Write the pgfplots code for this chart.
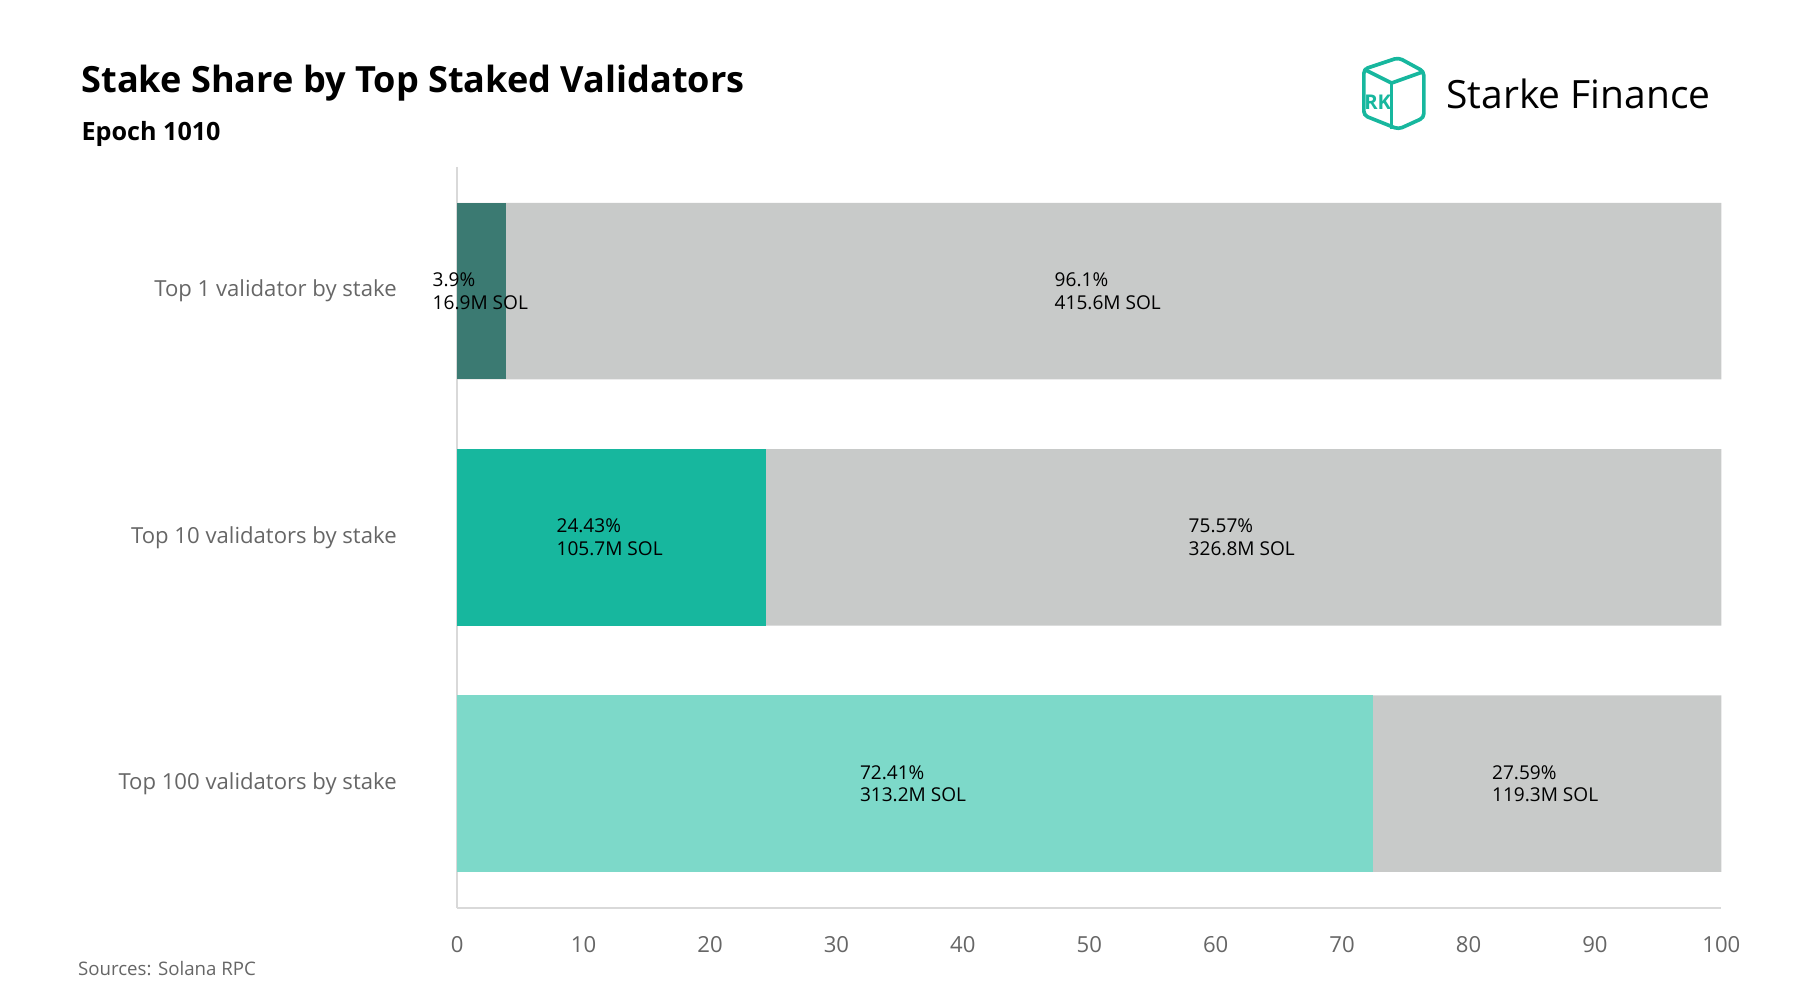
\documentclass[border=0pt]{standalone}
\usepackage{pgfplots}
\pgfplotsset{compat=1.18}
\usepackage{fontspec}
\setmainfont{Open Sans}
\definecolor{c1}{HTML}{3B7A72}
\definecolor{c2}{HTML}{17B79E}
\definecolor{c3}{HTML}{7DD9C9}
\definecolor{gr}{HTML}{C8CAC9}
\definecolor{tg}{HTML}{666666}
\begin{document}
\begin{tikzpicture}
\begin{scope}[x=0.01cm,y=0.01cm]
\path[use as bounding box] (0,0) rectangle (1560,867);
\node[anchor=west,inner sep=0,font=\fontsize{8.9pt}{10pt}\selectfont\bfseries] at (70,795) {Stake Share by Top Staked Validators};
\node[anchor=west,inner sep=0,font=\fontsize{6.2pt}{7pt}\selectfont\bfseries] at (70,751) {Epoch 1010};
\node[anchor=west,inner sep=0,font=\fontsize{4.6pt}{5pt}\selectfont,text=tg] at (67,28) {Sources: Solana RPC};
\begin{scope}[line width=0.9pt,draw=c2]
\draw[rounded corners=1pt] (1182,807) -- (1212,817) -- (1234,805) -- (1234,765) -- (1212,755) -- (1182,767) -- cycle;
\draw (1182,807) -- (1206,795) -- (1234,805);
\draw (1206,795) -- (1206,755);
\node[font=\fontsize{5pt}{5pt}\selectfont\bfseries,text=c2] at (1194,778) {RK};
\end{scope}
\node[anchor=west,inner sep=0,font=\fontsize{9.6pt}{10pt}\selectfont] at (1253,786) {Starke Finance};
\end{scope}
\begin{axis}[at={(3.96cm,0.80cm)},anchor=south west,scale only axis,
 width=10.95cm,height=6.42cm,
 xbar,bar shift=0pt,bar width=1.53cm,
 xmin=0,xmax=100,ymin=-0.505,ymax=2.505,y dir=reverse,
 ytick={0,1,2},yticklabels={Top 1 validator by stake,Top 10 validators by stake,Top 100 validators by stake},
 xtick={0,10,...,100},
 axis x line*=bottom,axis y line*=left,
 axis line style={draw=gray!30},
 major tick length=0pt,
 /pgf/number format/assume math mode=true,
 tick label style={font=\fontsize{5.45pt}{6pt}\selectfont,text=tg},
 yticklabel style={xshift=-0.4cm},
 xticklabel style={yshift=-0.12cm},
 clip=false]
\addplot[fill=gr,draw=none] coordinates {(100,0) (100,1) (100,2)};
\addplot[fill=c1,draw=none] coordinates {(3.9,0)};
\addplot[fill=c2,draw=none] coordinates {(24.43,1)};
\addplot[fill=c3,draw=none] coordinates {(72.41,2)};
\begin{scope}[every node/.style={font=\fontsize{4.7pt}{5.6pt}\selectfont,align=left,anchor=west,inner sep=0}]
\node at (axis cs:-2,0) {3.9\%\\16.9M SOL};
\node at (axis cs:47.2,0) {96.1\%\\415.6M SOL};
\node at (axis cs:7.8,1) {24.43\%\\105.7M SOL};
\node at (axis cs:57.8,1) {75.57\%\\326.8M SOL};
\node at (axis cs:31.8,2) {72.41\%\\313.2M SOL};
\node at (axis cs:81.8,2) {27.59\%\\119.3M SOL};
\end{scope}
\end{axis}
\end{tikzpicture}
\end{document}
